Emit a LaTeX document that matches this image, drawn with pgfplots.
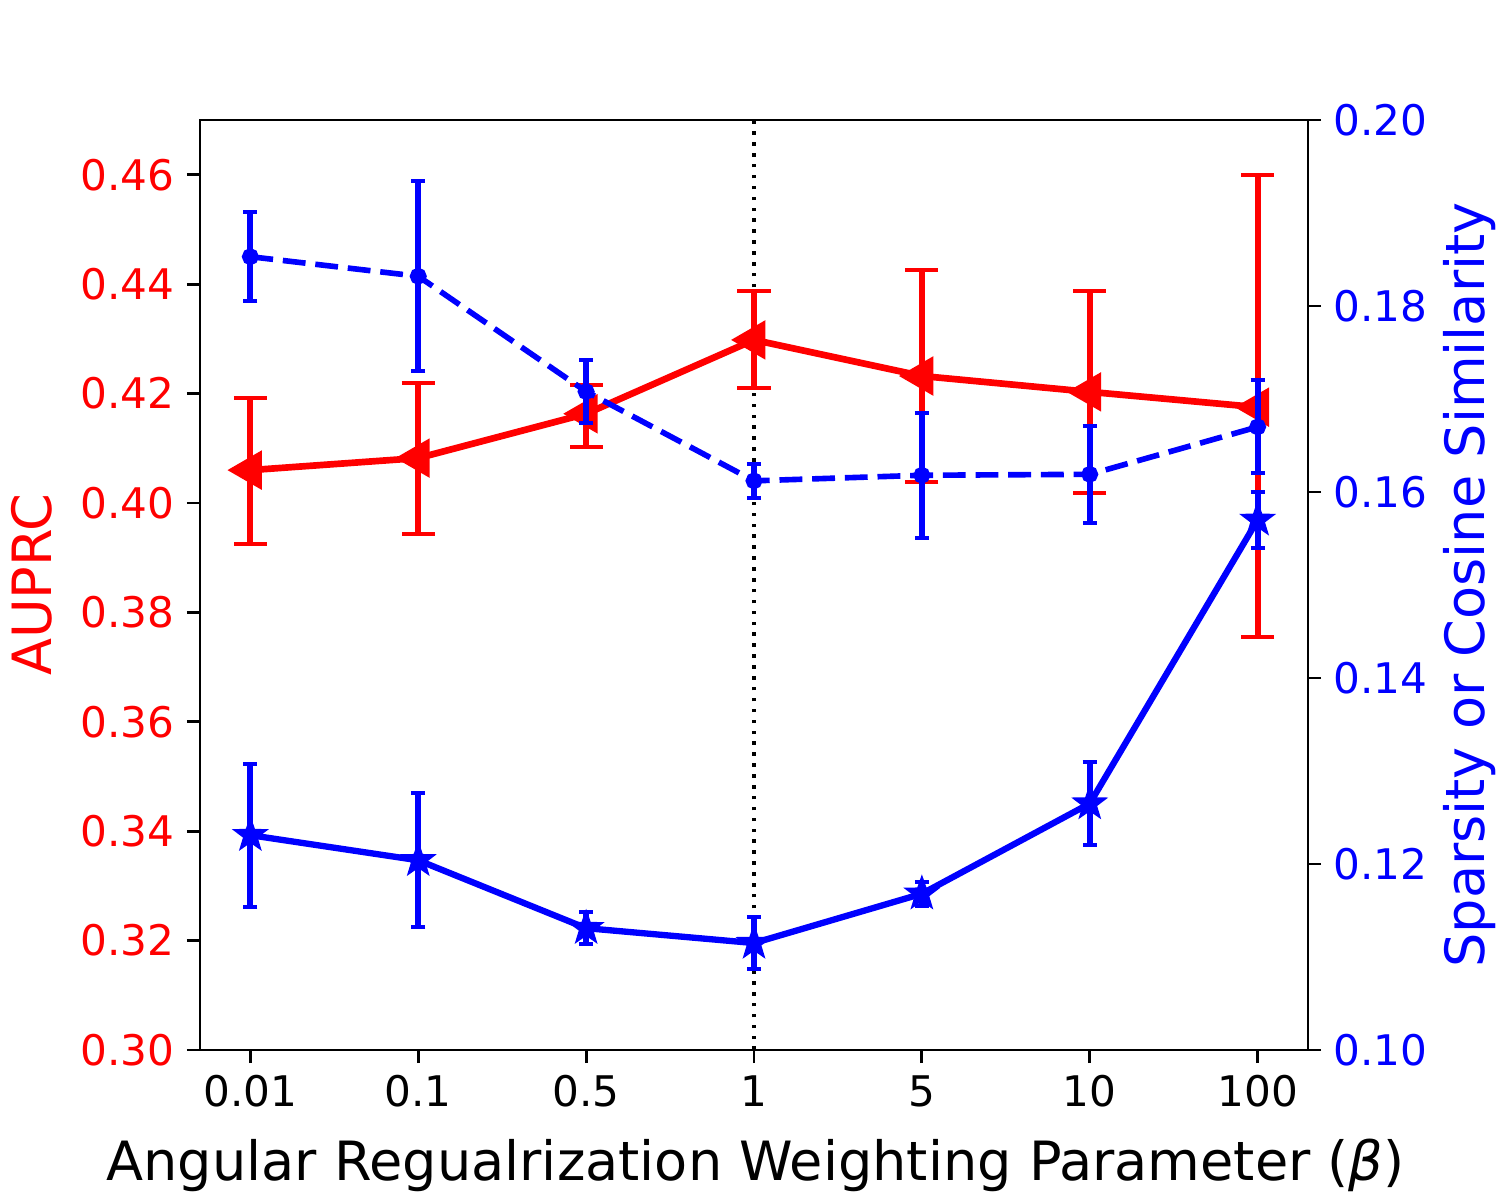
\documentclass[border=0pt]{standalone}
\usepackage{pgfplots}
\pgfplotsset{compat=1.18}
\usepackage{pgfplotstable}
\usepackage{fontspec}
\setmainfont{DejaVu Sans}
\usetikzlibrary{plotmarks}

\pgfdeclareplotmark{fstar}{%
  \pgfpathmoveto{\pgfpointpolar{90}{\pgfplotmarksize}}%
  \pgfpathlineto{\pgfpointpolar{126}{0.40\pgfplotmarksize}}%
  \pgfpathlineto{\pgfpointpolar{162}{\pgfplotmarksize}}%
  \pgfpathlineto{\pgfpointpolar{198}{0.40\pgfplotmarksize}}%
  \pgfpathlineto{\pgfpointpolar{234}{\pgfplotmarksize}}%
  \pgfpathlineto{\pgfpointpolar{270}{0.40\pgfplotmarksize}}%
  \pgfpathlineto{\pgfpointpolar{306}{\pgfplotmarksize}}%
  \pgfpathlineto{\pgfpointpolar{342}{0.40\pgfplotmarksize}}%
  \pgfpathlineto{\pgfpointpolar{18}{\pgfplotmarksize}}%
  \pgfpathlineto{\pgfpointpolar{54}{0.40\pgfplotmarksize}}%
  \pgfpathclose
  \pgfusepathqfillstroke}

\pgfplotstableread{
x y ep em
0 0.4060 0.0132 0.0135
1 0.4082 0.0137 0.0139
2 0.4163 0.0053 0.0061
3 0.4298 0.0090 0.0088
4 0.4232 0.0194 0.0194
5 0.4203 0.0185 0.0185
6 0.4175 0.0425 0.0420
}\auprc

\pgfplotstableread{
x y e
0 0.1853 0.0048
1 0.1832 0.0102
2 0.1708 0.0034
3 0.1612 0.0018
4 0.1618 0.0067
5 0.1619 0.0052
6 0.1670 0.0050
}\cosine

\pgfplotstableread{
x y e
0 0.1231 0.0077
1 0.1204 0.0072
2 0.1131 0.0017
3 0.1115 0.0028
4 0.1168 0.0013
5 0.1265 0.0045
6 0.1570 0.0030
}\sparsity

\pgfplotsset{
  common/.style={
    scale only axis, width=11.08cm, height=9.30cm,
    at={(0,0)}, anchor=south west,
    xmin=-0.3, xmax=6.3,
    tick align=outside,
    major tick length=3.7pt,
    every tick/.style={black, line width=0.8pt},
    axis line style={line width=0.85pt},
    ticklabel style={font=\fontsize{12}{14}\selectfont},
    label style={font=\fontsize{15.4}{18}\selectfont},
    /pgf/number format/assume math mode=true,
    /pgf/number format/fixed, /pgf/number format/fixed zerofill,
    /pgf/number format/precision=2,
  }
}

\begin{document}
\begin{tikzpicture}
\useasboundingbox (-2.00cm,-1.50cm) rectangle (13.00cm,10.50cm);
\begin{axis}[common,
  ymin=0.30, ymax=0.47,
  ytick={0.30,0.32,0.34,0.36,0.38,0.40,0.42,0.44,0.46},
  xtick={0,1,2,3,4,5,6},
  xticklabels={0.01,0.1,0.5,1,5,10,100},
  tick pos=left,
  yticklabel style={text=red},
  xlabel={Angular Regualrization Weighting Parameter ({\itshape β})},
  ylabel={AUPRC},
  ylabel style={text=red, at={(axis description cs:-0.1336,0.5)}, anchor=base},
  xlabel style={at={(axis description cs:0.5014,-0.1398)}, anchor=base},
]
\addplot[black, line width=0.9pt, dash pattern=on 1pt off 2.1pt] coordinates {(3,0.30) (3,0.47)};
\addplot[red, line width=1.9pt, mark=triangle*, mark size=4.6pt,
  mark options={rotate=90, solid},
  error bars/.cd, y dir=both, y explicit,
  error mark=|,
  error bar style={line width=1.7pt, solid},
  error mark options={line width=1.15pt, mark size=4.7pt, red}]
  table[x=x, y=y, y error plus=ep, y error minus=em] {\auprc};
\end{axis}
\begin{axis}[common,
  ymin=0.10, ymax=0.20,
  ytick={0.10,0.12,0.14,0.16,0.18,0.20},
  hide x axis,
  axis y line*=right,
  ytick pos=right,
  yticklabel style={text=blue},
  ylabel={Sparsity or Cosine Similarity},
  ylabel style={text=blue, at={(axis description cs:1.1597,0.5)}, anchor=base},
]
\addplot[blue, line width=1.6pt, dash pattern=on 6.5pt off 2.8pt, mark=*, mark size=1.6pt,
  mark options={solid},
  error bars/.cd, y dir=both, y explicit,
  error mark=|,
  error bar style={line width=1.7pt, solid},
  error mark options={line width=1.15pt, mark size=2pt, blue}]
  table[x=x, y=y, y error=e] {\cosine};
\addplot[blue, line width=1.8pt, mark=fstar, mark size=2.8pt,
  mark options={solid},
  error bars/.cd, y dir=both, y explicit,
  error mark=|,
  error bar style={line width=1.7pt, solid},
  error mark options={line width=1.15pt, mark size=2pt, blue}]
  table[x=x, y=y, y error=e] {\sparsity};
\end{axis}
\end{tikzpicture}
\end{document}
